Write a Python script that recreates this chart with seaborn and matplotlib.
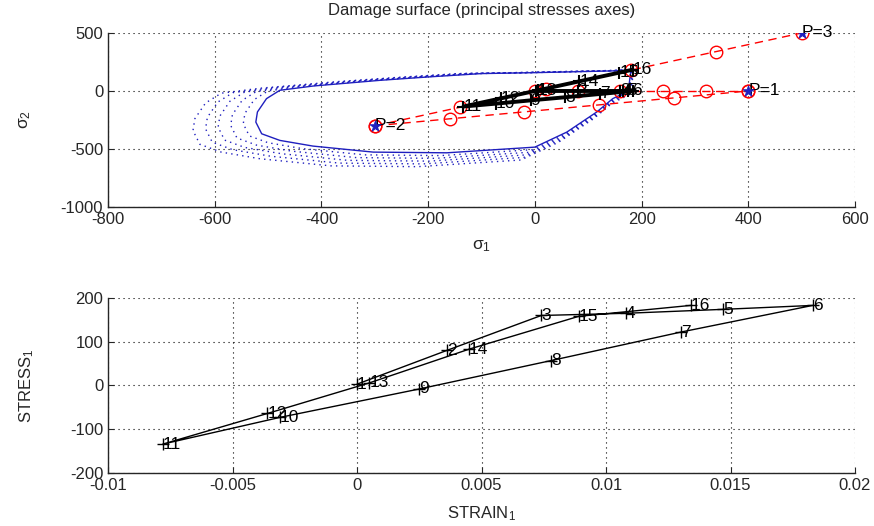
import matplotlib
matplotlib.use("Agg")
import matplotlib.pyplot as plt
import numpy as np
import pandas as pd
import seaborn as sns

# ---------------- data ----------------
# damage surface (solid blue), principal stresses
surf_s1 = [180, 145, 0, -100, -200, -290, -415, -478, -503, -520, -523, -512,
           -478, -416, -303, -165, 0, 60, 116, 146, 175, 180]
surf_s2 = [180, 173, 158, 150, 121, 92, 43, 6, -66, -181, -268, -369,
           -426, -475, -527, -533, -484, -354, -181, -66, 0, 180]
# dotted (enlarged) surfaces: scale factors about a centre point
dotted_scales = [1.035, 1.07, 1.105, 1.14, 1.175]
surf_centre = [150, 150]

# red dashed loading directions
dirA_s1 = [-300, -140, 20, 180, 340, 500]
dirA_s2 = [-300, -140, 20, 180, 340, 500]
dirB_s1 = [-300, -160, -20, 120, 260, 400]
dirB_s2 = [-300, -240, -180, -120, -60, 0]
dirC_s1 = [0, 80, 160, 240, 320, 400]
dirC_s2 = [0, 0, 0, 0, 0, 0]

p_s1 = [400, -300, 500]
p_s2 = [0, -300, 500]
p_labels = ["P=1", "P=2", "P=3"]

# load steps
step_labels = [str(i) for i in range(1, 17)]
stress1 = [3, 80, 160, 165, 174, 183, 122, 57, -8, -73, -134, -64, 6, 83, 158, 183]
sigma2 = [0, 0, 0, 0, 0, 0, -26, -54, -81, -109, -134, -64, 6, 83, 158, 183]
strain1 = [0.0000, 0.0036, 0.0074, 0.0108, 0.0147, 0.0183, 0.0130, 0.0078,
           0.0025, -0.0031, -0.0078, -0.0036, 0.0005, 0.0045, 0.0089, 0.0134]

top_xticks = [-800, -600, -400, -200, 0, 200, 400, 600]
top_yticks = [-1000, -500, 0, 500]
bot_xticks = [-0.01, -0.005, 0, 0.005, 0.01, 0.015, 0.02]
bot_xticklabels = ["-0.01", "-0.005", "0", "0.005", "0.01", "0.015", "0.02"]
bot_yticks = [-200, -100, 0, 100, 200]

# ---------------- style ----------------
sns.set_style("ticks")
plt.rcParams["font.family"] = ["Liberation Sans", "DejaVu Sans"]
plt.rcParams["axes.unicode_minus"] = False
plt.rcParams["mathtext.fontset"] = "custom"
plt.rcParams["mathtext.rm"] = "Liberation Sans"
plt.rcParams["mathtext.it"] = "Liberation Sans"

BLUE = "#1f1fbf"
fig = plt.figure(figsize=(8.74, 5.26), dpi=100)
ax1 = fig.add_axes([0.1236, 0.6065, 0.8547, 0.3308])
ax2 = fig.add_axes([0.1236, 0.1008, 0.8547, 0.3327])

def style_axes(ax):
    ax.grid(True, color="black", linestyle=(0, (1, 3.5)), linewidth=0.8)
    for s in ["top", "right"]:
        ax.spines[s].set_visible(False)
    for s in ["left", "bottom"]:
        ax.spines[s].set_linewidth(1.0)
    ax.tick_params(direction="in", length=4, labelsize=12, width=0.8)
    ax.set_axisbelow(True)

# ---- top panel ----
surf_df = pd.DataFrame({"s1": surf_s1, "s2": surf_s2})
for sc in dotted_scales:
    xs = surf_centre[0] + sc * (np.array(surf_s1) - surf_centre[0])
    ys = surf_centre[1] + sc * (np.array(surf_s2) - surf_centre[1])
    sns.lineplot(x=xs, y=ys, sort=False, estimator=None, ax=ax1, color=BLUE,
                 linestyle=(0, (1, 3)), linewidth=1.0)
sns.lineplot(data=surf_df, x="s1", y="s2", sort=False, estimator=None, ax=ax1,
             color=BLUE, linewidth=1.0)

for xs, ys in [(dirA_s1, dirA_s2), (dirB_s1, dirB_s2), (dirC_s1, dirC_s2)]:
    sns.lineplot(x=xs, y=ys, sort=False, estimator=None, ax=ax1, color="red",
                 linestyle=(0, (6, 4)), linewidth=1.0, marker="o", markersize=9,
                 markerfacecolor="none", markeredgecolor="red", markeredgewidth=1.0)

sns.lineplot(x=stress1, y=sigma2, sort=False, estimator=None, ax=ax1, color="black",
             linewidth=2.8, marker="+", markersize=9, markeredgecolor="black",
             markeredgewidth=1.5)
for x, y, t in zip(stress1, sigma2, step_labels):
    ax1.text(x, y, t, ha="left", va="center", fontsize=12.5, color="black")

sns.scatterplot(x=p_s1, y=p_s2, ax=ax1, marker="*", s=70, color=BLUE,
                edgecolor=BLUE, linewidth=0.6, zorder=5)
for x, y, t in zip(p_s1, p_s2, p_labels):
    ax1.text(x, y, t, ha="left", va="center", fontsize=12.5, color="black")

ax1.set_xlim(-800, 600)
ax1.set_ylim(-1000, 500)
ax1.set_xticks(top_xticks)
ax1.set_yticks(top_yticks)
style_axes(ax1)
ax1.set_xlabel(r"$\sigma_1$", fontsize=12.5, labelpad=8)
ax1.set_ylabel(r"$\sigma_2$", fontsize=12.5, labelpad=20)
ax1.set_title("Damage surface (principal stresses axes)", fontsize=12, pad=13)

# ---- bottom panel ----
sns.lineplot(x=strain1, y=stress1, sort=False, estimator=None, ax=ax2, color="black",
             linewidth=1.0, marker="+", markersize=9, markeredgecolor="black",
             markeredgewidth=1.0)
for x, y, t in zip(strain1, stress1, step_labels):
    ax2.text(x, y, t, ha="left", va="center", fontsize=12.5, color="black")

ax2.set_xlim(-0.01, 0.02)
ax2.set_ylim(-200, 200)
ax2.set_xticks(bot_xticks)
ax2.set_xticklabels(bot_xticklabels)
ax2.set_yticks(bot_yticks)
style_axes(ax2)
ax2.set_xlabel(r"STRAIN$_1$", fontsize=12, labelpad=8)
ax2.set_ylabel(r"STRESS$_1$", fontsize=12, labelpad=24)

fig.savefig("out.png", dpi=100)
